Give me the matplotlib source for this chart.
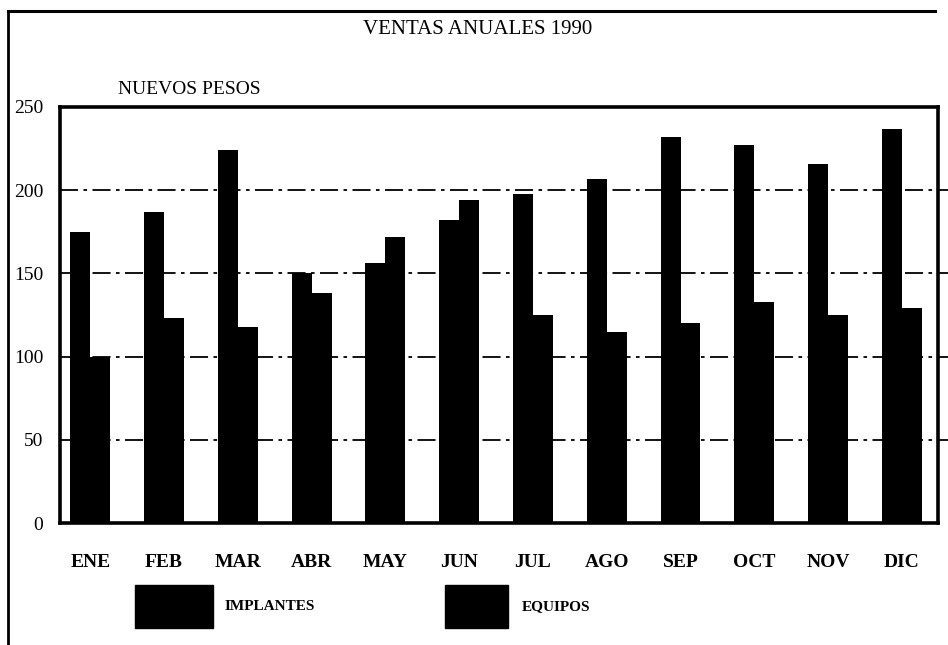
import numpy as np
import matplotlib
matplotlib.use("Agg")
import matplotlib.pyplot as plt
from matplotlib.lines import Line2D
from matplotlib.patches import Rectangle

plt.rcParams["font.family"] = ["Liberation Serif", "DejaVu Serif"]

meses = ["ENE", "FEB", "MAR", "ABR", "MAY", "JUN",
         "JUL", "AGO", "SEP", "OCT", "NOV", "DIC"]
implantes = [175, 187, 224, 150, 156, 182, 198, 207, 232, 227, 216, 237]
equipos = [100, 123, 118, 138, 172, 194, 125, 115, 120, 133, 125, 129]
yticks = [0, 50, 100, 150, 200, 250]

W, H = 948, 645
fig = plt.figure(figsize=(W / 100, H / 100), dpi=100)
ax = fig.add_axes([60 / W, 1 - 523 / H, (938 - 60) / W, (523 - 107) / H])

x = np.arange(len(meses))
w = 0.27
ax.bar(x - w / 2, implantes, width=w, color="black", zorder=3)
ax.bar(x + w / 2, equipos, width=w, color="black", zorder=3)

ax.set_xlim(-0.41, 11.49)
ax.set_ylim(0, 250)

# dash-dot grid that runs a little past the right border
for yv in yticks[1:-1]:
    ax.axhline(yv, xmin=0, xmax=(W - 60) / (938 - 60), color="black",
               lw=1.3, linestyle=(0, (10, 3, 2, 3)), clip_on=False, zorder=1)

for s in ax.spines.values():
    s.set_linewidth(2.6)

ax.set_xticks(x)
ax.set_xticklabels(meses, fontsize=14, fontweight="bold")
ax.set_yticks(yticks)
ax.set_yticklabels([str(v) for v in yticks], fontsize=14)
ax.tick_params(axis="x", length=0, pad=22)
ax.tick_params(axis="y", length=0, pad=12)

fig.text(478 / W, 1 - 30 / H, "VENTAS ANUALES 1990", ha="center",
         va="center", fontsize=15)
fig.text(118 / W, 1 - 90 / H, "NUEVOS PESOS", ha="left", va="center",
         fontsize=14)

# legend boxes
fig.add_artist(Rectangle((135 / W, 1 - 628 / H), 78 / W, 43 / H,
                         transform=fig.transFigure, color="black"))
fig.text(225 / W, 1 - 607 / H, "IMPLANTES", ha="left", va="center",
         fontsize=11, fontweight="bold")
fig.add_artist(Rectangle((445 / W, 1 - 628 / H), 63 / W, 43 / H,
                         transform=fig.transFigure, color="black"))
fig.text(522 / W, 1 - 607 / H, "EQUIPOS", ha="left", va="center",
         fontsize=11, fontweight="bold")

# outer frame
fig.add_artist(Line2D([8 / W, 8 / W], [0, 1 - 11 / H], color="black",
                      lw=2, transform=fig.transFigure))
fig.add_artist(Line2D([8 / W, 935 / W], [1 - 11 / H, 1 - 11 / H],
                      color="black", lw=2.2, transform=fig.transFigure))

fig.savefig("out.png", dpi=100)
